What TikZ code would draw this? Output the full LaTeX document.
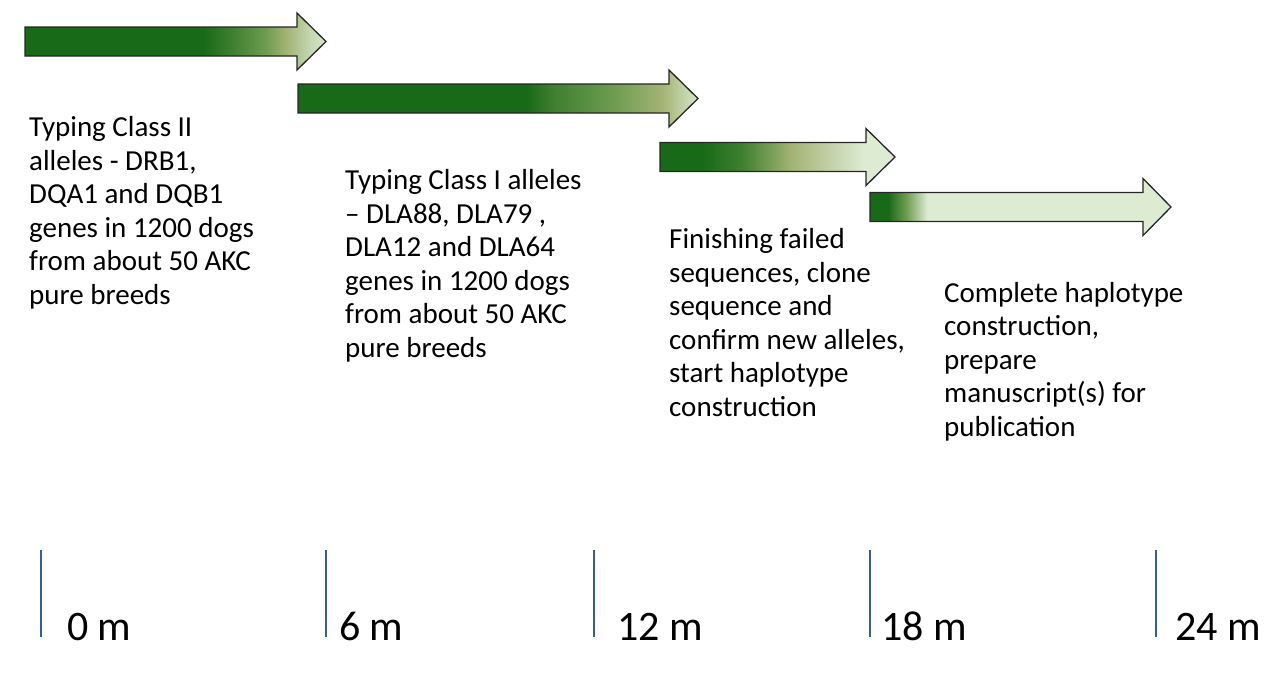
\documentclass[tikz,border=0pt]{standalone}
\usepackage{fontspec}
\setmainfont{Carlito}
\definecolor{dkg}{HTML}{186A18}
\definecolor{mdg}{HTML}{3F8030}
\definecolor{mlg}{HTML}{6E9C50}
\definecolor{olv}{HTML}{A3B475}
\definecolor{pal}{HTML}{C5D8B5}
\definecolor{lgt}{HTML}{D6E6CA}
\definecolor{lgt2}{HTML}{DDEBD3}
\definecolor{tick}{HTML}{3B5B98}
\pgfdeclarehorizontalshading{shA}{100bp}{color(0bp)=(dkg); color(54.5bp)=(dkg); color(59.5bp)=(mdg); color(65bp)=(mlg); color(68.5bp)=(olv); color(72.5bp)=(pal); color(75bp)=(lgt); color(100bp)=(lgt)}
\pgfdeclarehorizontalshading{shB}{100bp}{color(0bp)=(dkg); color(53.5bp)=(dkg); color(57bp)=(mdg); color(64.5bp)=(mlg); color(70.5bp)=(olv); color(75bp)=(lgt); color(100bp)=(lgt)}
\pgfdeclarehorizontalshading{shC}{100bp}{color(0bp)=(dkg); color(34bp)=(dkg); color(42.5bp)=(mdg); color(53bp)=(olv); color(68.5bp)=(lgt2); color(100bp)=(lgt2)}
\pgfdeclarehorizontalshading{shD}{100bp}{color(0bp)=(dkg); color(28bp)=(dkg); color(31bp)=(mlg); color(34.5bp)=(lgt2); color(100bp)=(lgt2)}
\tikzset{
  arrowshape/.style={draw=black!85, line width=1.3pt, line join=miter},
  desc/.style={anchor=base west, align=left, inner sep=0pt, font=\fontsize{29}{33.5}\selectfont},
  mlabel/.style={anchor=base west, inner sep=0pt, font=\fontsize{42}{48}\selectfont},
  tickline/.style={draw=tick, line width=1.5pt}
}
\begin{document}
\begin{tikzpicture}[x=1pt,y=-1pt]
\useasboundingbox (0,0) rectangle (1285,680);
\newcommand{\tlarrow}[6]{% #1 shading, #2 x0, #3 xh, #4 xtip, #5 ymid, #6 name
  \shade[arrowshape, shading=#1]
    (#2,#5-14.5) -- (#3,#5-14.5) -- (#3,#5-28.5) -- (#4,#5) -- (#3,#5+28.5)
    -- (#3,#5+14.5) -- (#2,#5+14.5) -- cycle;
  \coordinate (#6) at (#2,#5);
}
\tlarrow{shA}{25}{297}{326}{41.5}{a1}
\tlarrow{shB}{298}{669}{698}{98.5}{a2}
\tlarrow{shC}{660}{866}{895}{157}{a3}
\tlarrow{shD}{870}{1143}{1171}{207}{a4}

% base anchor = baseline of the last line
\node[desc] (t1) at (29,304) {Typing Class II\\alleles - DRB1,\\DQA1 and DQB1\\genes in 1200 dogs\\from about 50 AKC\\pure breeds};
\node[desc] (t2) at (345,357) {Typing Class I alleles\\– DLA88, DLA79 ,\\DLA12 and DLA64\\genes in 1200 dogs\\from about 50 AKC\\pure breeds};
\node[desc] (t3) at (669,416) {Finishing failed\\sequences, clone\\sequence and\\confirm  new alleles,\\start haplotype\\construction};
\node[desc] (t4) at (944,436) {Complete haplotype\\construction,\\prepare\\manuscript(s) for\\publication};

\foreach \x/\lx/\lab/\nm in {41/67/0 m/m0, 326/339/6 m/m6, 594/617/12 m/m12, 870/881/18 m/m18, 1156/1175/24 m/m24}{
  \coordinate (\nm top) at (\x,550);
  \coordinate (\nm bot) at (\x,637);
  \draw[tickline] (\nm top) -- (\nm bot);
  \node[mlabel] (\nm) at (\lx,640) {\lab};
}
\end{tikzpicture}
\end{document}
